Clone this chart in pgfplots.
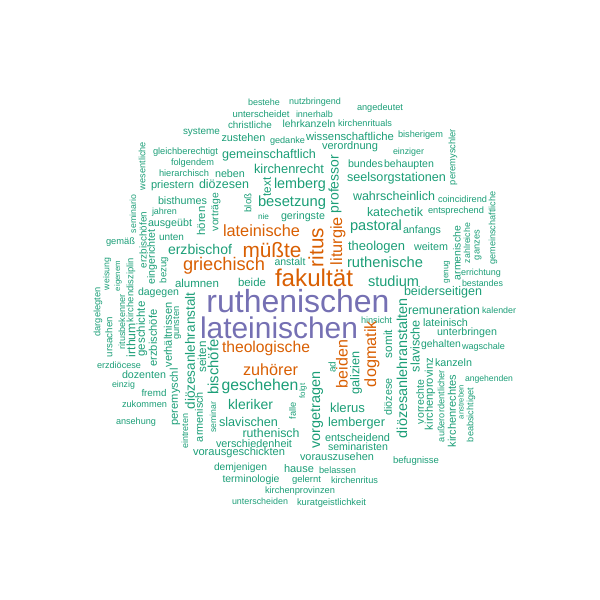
\documentclass[border=0pt]{standalone}
\usepackage{fontspec}
\setmainfont{Liberation Sans}
\usepackage{graphicx}
\usepackage{pgfplots}
\usepackage{pgfplotstable}
\pgfplotsset{compat=1.18}
\definecolor{c0}{HTML}{1B9E77}
\definecolor{c1}{HTML}{D95F02}
\definecolor{c2}{HTML}{7570B3}
\pgfplotstableread{
x y len rot word
264 102 32 0 bestehe
315 102 52 0 nutzbringend
380 108 46 0 angedeutet
261 114 57 0 unterscheidet
314.5 114 37 0 innerhalb
250 125 44 0 christliche
309 124 53 0 lehrkanzeln
365 123 54 0 kirchenrituals
201.5 132 37 0 systeme
243.5 138 44 0 zustehen
287.5 141 35 0 gedanke
350 136 88 0 wissenschaftliche
420.5 135 45 0 bisherigem
453 157 56 90 peremyschler
408.5 152 31 0 einziger
350 147 56 0 verordnung
185.5 152 65 0 gleichberechtigt
269 155 94 0 gemeinschaftlich
142 166 48 90 wesentliche
192.5 163 43 0 folgendem
365.5 164 35 0 bundes
409 165 50 0 behaupten
184 173 50 0 hierarchisch
230 174 30 0 neben
289 169 70 0 kirchenrecht
267 187 19 90 text
335 184 58 90 professor
396.5 178 99 0 seelsorgstationen
172.5 186 43 0 priestern
224 184 50 0 diözesen
300 185 52 0 lemberg
248 203 19 90 bloß
394 196 82 0 wahrscheinlich
462.5 199 49 0 coincidirend
493 228 73 90 gemeinschaftliche
182.5 201 49 0 bisthumes
292 203 68 0 besetzung
216 212 38 90 vorträge
133 214 38 90 seminario
143 240 56 90 erzbischöfen
152 257 55 90 eingerichtet
164.5 212 25 0 jahren
201 221 29 90 hören
170 224 44 0 ausgeübt
263.5 217 11 0 nie
303 217 44 0 geringste
171.5 237 25 0 unten
164 270 26 90 bezug
395 212 56 0 katechetik
456 211 56 0 entsprechend
376 227 52 0 pastoral
422 231 38 0 anfangs
376.5 247 57 0 theologen
431 247 34 0 weitem
457 253 54 90 armenische
467 243 40 90 zahlreiche
478 245 30 90 ganzes
447 272 23 90 genug
481 273 40 0 errichtung
482.5 283 41 0 bestandes
385 262 76 0 ruthenische
393.5 281 51 0 studium
443 292 78 0 beiderseitigen
444 310 72 0 remuneration
499 310 34 0 kalender
445.5 323 45 0 lateinisch
467 333 60 0 unterbringen
441 345 40 0 gehalten
483.5 347 43 0 wagschale
453.5 363 37 0 kanzeln
402 368 140 90 diözesanlehranstalten
388 344 28 90 somit
376.5 320 31 0 hinsicht
415 346 52 90 slavische
356 373 43 90 galizien
332 367 11 90 ad
388 397 37 90 diözese
420 402 44 90 vorrechte
430 394 72 90 kirchenprovinz
441 406 72 90 außerordentlicher
452 411 72 90 kirchenrechtes
461 402 34 90 anstreben
471 415 54 90 beabsichtiget
489 379 48 0 angehenden
416 461 46 0 befugnisse
120.5 242 29 0 gemäß
200 249 64 0 erzbischof
290 262 31 0 anstalt
107 274 32 90 weisung
118 276 30 90 eigenem
131 290 64 90 kirchendisziplin
131 340 34 90 irthum
122 322 55 90 ritusbekenner
98 312 49 90 dargelegten
109 337 40 90 ursachen
197 283 44 0 alumnen
252 282 28 0 beide
158.5 293 41 0 dagegen
142 329 55 90 geschichte
153 338 57 90 erzbischöfe
168 335 65 90 verhältnissen
177 323 33 90 gunsten
119 365 44 0 erzdiöcese
144 375 44 0 dozenten
123.5 385 23 0 einzig
154 393 25 0 fremd
144.5 404 45 0 zukommen
136 422 40 0 ansehung
175 397 57 90 peremyschl
185 431 35 90 eintreten
199 417 50 90 armenisch
190 351 117 90 diözesanlehranstalt
202 357 31 90 seiten
213 367 55 90 bischöfe
213 417 31 90 seminar
317 410 77 90 vorgetragen
260 386 77 0 geschehen
303 391 15 90 folgt
250.5 405 45 0 kleriker
292.5 411 17 90 falle
347.5 408 35 0 klerus
248.5 422 59 0 slavischen
356.5 423 57 0 lemberger
271 433 57 0 ruthenisch
254 444 76 0 verschiedenheit
357.5 438 65 0 entscheidend
358 447 60 0 seminaristen
239 453 92 0 vorausgeschickten
337 457 74 0 vorauszusehen
240.5 468 53 0 demjenigen
299 469 30 0 hause
337.5 470 37 0 belassen
251 480 57 0 terminologie
306.5 480 29 0 gelernt
354.5 480 47 0 kirchenritus
300 491 70 0 kirchenprovinzen
260 501 56 0 unterscheiden
331.5 503 69 0 kuratgeistlichkeit
}\wordsteal
\pgfplotstableread{
x y len rot word
261.5 231 77 0 lateinische
338 241 48 90 liturgie
316 247.5 39 90 ritus
372 354 66 90 dogmatik
342 364 48 90 beiden
224 266 82 0 griechisch
272 250 59 0 müßte
314 277.5 78 0 fakultät
266 348 88 0 theologische
270.5 370 55 0 zuhörer
}\wordsorange
\pgfplotstableread{
x y len rot word
279 328 158 0 lateinischen
298 301 183 0 ruthenischen
}\wordspurple
\pgfplotsset{
  cloud/.style={draw=none, mark=none,
    visualization depends on={\thisrow{len}\as\wlen},
    visualization depends on={\thisrow{rot}\as\wrot},
    point meta=explicit symbolic,
    nodes near coords={\resizebox{\wlen pt}{!}{\pgfplotspointmeta}},
    nodes near coords style={anchor=center, rotate=\wrot, text=#1, inner sep=0pt, font=\fontsize{20}{24}\selectfont},
  },
}
\begin{document}
\begin{tikzpicture}
\begin{axis}[
  width=600pt, height=600pt, scale only axis, hide axis,
  xmin=0, xmax=600, ymin=0, ymax=600, y dir=reverse,
  clip=false,
]
\addplot[draw=none, mark=none, forget plot] coordinates {(0,0) (600,600)};
\addplot[cloud=c0] table[x=x, y=y, meta=word] {\wordsteal};
\addplot[cloud=c1] table[x=x, y=y, meta=word] {\wordsorange};
\addplot[cloud=c2] table[x=x, y=y, meta=word] {\wordspurple};
\end{axis}
\end{tikzpicture}
\end{document}
